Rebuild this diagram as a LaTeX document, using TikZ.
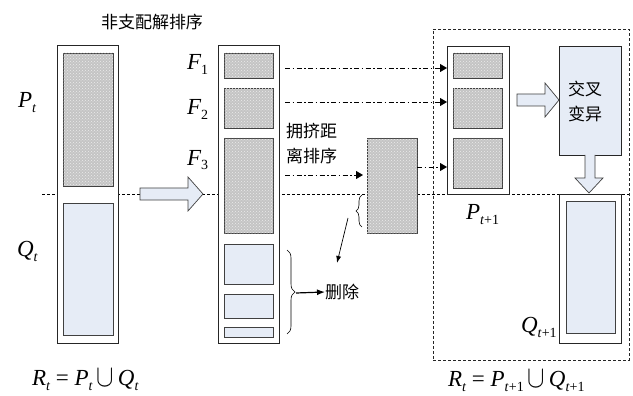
\documentclass[tikz,border=0pt]{standalone}
\usepackage{amsmath}
\usepackage{fontspec}
\setmainfont{Liberation Serif}
\newfontfamily\cjk{Noto Sans CJK SC}
\usetikzlibrary{arrows.meta,decorations.pathreplacing,patterns,positioning}
\definecolor{lblue}{RGB}{230,236,246}
\definecolor{pgray}{RGB}{196,196,196}
\newcommand\symb[2]{\textit{#1}\raisebox{-5pt}{\fontsize{14}{14}\selectfont #2}}
\newcommand\rect[6]{\node[#2,minimum width=#5pt-#3pt,minimum height=#6pt-#4pt,anchor=north west] (#1) at (#3,#4) {};}
\newcommand\bigunion{\raisebox{-1pt}{\scalebox{1.05}[1.25]{$\cup$}}}
\begin{document}
\begin{tikzpicture}[x=1pt,y=-1pt,
  every node/.style={inner sep=0pt,outer sep=0pt},
  outerb/.style={draw=black!85,line width=0.9pt,fill=white},
  grayb/.style={draw=black!75,line width=0.9pt,fill=pgray,postaction={pattern=crosshatch dots,pattern color=white!85!gray}},
  blueb/.style={draw=black!75,line width=0.9pt,fill=lblue},
  crossb/.style={draw=black!85,line width=0.9pt,fill=lblue},
  blockarrow/.style={draw=black!75,line width=0.7pt,fill=lblue,line join=miter},
  ddarrow/.style={dash pattern=on 5pt off 2.5pt on 1.5pt off 2.5pt,line width=0.9pt,-{Triangle[length=7pt,width=8pt]}},
  cn/.style={font=\cjk\fontsize{17}{25}\selectfont},
  mlab/.style={font=\fontsize{23}{23}\selectfont,anchor=base west},
  brc/.style={decorate,decoration={brace,amplitude=6pt},line width=0.6pt}]
\useasboundingbox (0,0) rectangle (633,396);
% dashed frame
\rect{frame}{draw=black!85,densely dashed,line width=0.7pt}{433}{29}{629}{360}
% horizontal dashed line
\coordinate (hl) at (42,194);
\coordinate (hr) at (629,194);
\draw[densely dashed,line width=0.6pt] (hl) -- (hr);
% title
\node[cn] (title) at (152,22) {非支配解排序};
% left column
\rect{L}{outerb}{57}{45}{118}{343}
\rect{Lg}{grayb}{63}{53}{113}{186}
\rect{Lb}{blueb}{63}{203}{113}{335}
\node[mlab] (Pt) at (18,108) {\symb{P}{\textit{t}}};
\node[mlab] (Qt) at (17,256) {\symb{Q}{\textit{t}}};
% left block arrow
\draw[blockarrow] (140,188) -- (188,188) -- (188,177) -- (203,194) -- (188,211) -- (188,200) -- (140,200) -- cycle;
% middle column
\rect{M}{outerb}{218}{45}{279}{343}
\rect{F1}{grayb}{224}{53}{273}{78}
\rect{F2}{grayb}{224}{88}{273}{128}
\rect{F3}{grayb}{224}{138}{273}{233}
\rect{B1}{blueb}{224}{244}{273}{284}
\rect{B2}{blueb}{224}{294}{273}{318}
\rect{B3}{blueb}{224}{327}{273}{337}
\node[mlab] (f1) at (187,70) {\symb{F}{1}};
\node[mlab] (f2) at (187,115) {\symb{F}{2}};
\node[mlab] (f3) at (187,165) {\symb{F}{3}};
% crowding distance sort
\node[cn,anchor=west,align=left] (cds) at (286,144) {拥挤距\\离排序};
\rect{C}{grayb}{367}{138}{417}{233}
% right column
\rect{P1}{outerb}{447}{46}{509}{194}
\rect{P1a}{grayb}{453}{53}{502}{78}
\rect{P1b}{grayb}{453}{88}{502}{128}
\rect{P1c}{grayb}{453}{138}{502}{188}
\node[mlab] (Pt1) at (466,219) {\symb{P}{\textit{t}+1}};
\rect{X}{crossb}{559}{46}{621}{155}
\node[cn,align=center] (xt) at (585,101) {交叉\\变异};
\rect{Q1}{outerb}{559}{194}{621}{343}
\rect{Q1b}{blueb}{566}{201}{615}{333}
\node[mlab] (Qt1) at (521,332) {\symb{Q}{\textit{t}+1}};
% dash-dot arrows
\coordinate (a1) at (285,68);
\coordinate (a2) at (285,102);
\coordinate (a3) at (285,175);
\draw[ddarrow] (a1) -- (P1.west |- a1);
\draw[ddarrow] (a2) -- (P1.west |- a2);
\draw[ddarrow] (a3) -- ([xshift=-4pt]C.west |- a3);
\draw[ddarrow] (C.east |- 0,167) -- (P1.west |- 0,167);
% block arrows right
\draw[blockarrow] (517,94) -- (545,94) -- (545,83) -- (559,100) -- (545,117) -- (545,106) -- (517,106) -- cycle;
\draw[blockarrow] (585,155) -- (585,178) -- (575,178) -- (589,193) -- (603,178) -- (595,178) -- (595,155);
% braces
\draw[brc] (362,227) -- (362,195);
\coordinate (bs) at (348,218);
\coordinate (be) at (337,263);
\draw[line width=0.7pt,-{Latex[length=7pt,width=5pt]}] (bs) -- (be);
\draw[brc,decoration={amplitude=8pt}] (287,250) -- (287,334);
\coordinate (db) at (296,293);
\node[cn,anchor=west] (del) at (325,292) {删除};
\draw[line width=1.2pt,-{Latex[length=8pt,width=6pt]}] (db) -- (del.west);
% formulas
\node[mlab] (R1) at (32,385) {\symb{R}{\textit{t}} = \symb{P}{\textit{t}}\,\bigunion\,\symb{Q}{\textit{t}}};
\node[mlab] (R2) at (448,386) {\symb{R}{\textit{t}} = \symb{P}{\textit{t}+1}\,\bigunion\,\symb{Q}{\textit{t}+1}};
\end{tikzpicture}
\end{document}
